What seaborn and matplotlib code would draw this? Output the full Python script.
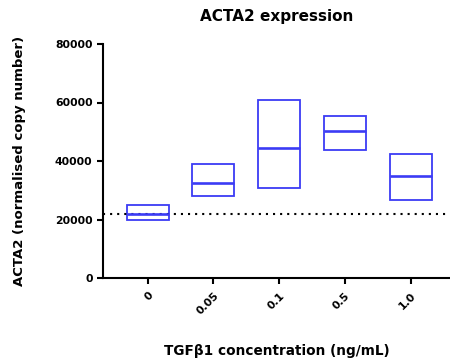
import matplotlib
matplotlib.use("Agg")
import matplotlib.pyplot as plt
import seaborn as sns
import numpy as np
import pandas as pd

# Data
concentrations = ["0", "0.05", "0.1", "0.5", "1.0"]
mins = [20000, 28000, 30800, 43700, 26700]
maxs = [25000, 39000, 61000, 55500, 42500]
medians = [22000, 32500, 44500, 50300, 35000]
baseline = 22000
yticks = [0, 20000, 40000, 60000, 80000]

sns.set_style("ticks")
plt.rcParams["font.family"] = ["DejaVu Sans"]
plt.rcParams["font.weight"] = "bold"
plt.rcParams["text.color"] = "black"
plt.rcParams["axes.labelcolor"] = "black"
plt.rcParams["xtick.color"] = "black"
plt.rcParams["ytick.color"] = "black"

blue = "#3b3bf5"

df = pd.DataFrame({
    "conc": concentrations,
    "low": mins,
    "span": np.array(maxs) - np.array(mins),
    "med": medians,
})

fig = plt.figure(figsize=(4.5, 3.62), dpi=100)
ax = fig.add_axes([103 / 450, 1 - 278 / 362, 1 - 103 / 450, (278 - 44) / 362])

width = 0.64
sns.barplot(data=df, x="conc", y="span", bottom=df["low"].to_numpy(),
            fill=False, color=blue, width=width, linewidth=1.3,
            edgecolor=blue, ax=ax)
# median lines
xs = np.arange(len(concentrations))
ax.hlines(df["med"], xs - width / 2, xs + width / 2, color=blue, lw=1.9, zorder=3)

ax.axhline(baseline, color="black", ls=(0, (1, 2.4)), lw=1.5, zorder=1)

ax.set_ylim(0, 80000)
ax.set_xlim(-0.68, 4.6)
ax.set_yticks(yticks)
ax.set_yticklabels([str(v) for v in yticks], fontsize=7.8, fontweight="bold")
ax.set_xticks(xs)
ax.set_xticklabels(concentrations, fontsize=7.8, fontweight="bold",
                   rotation=45, ha="right", rotation_mode="anchor")

sns.despine(ax=ax)
for s in ["left", "bottom"]:
    ax.spines[s].set_linewidth(1.5)
    ax.spines[s].set_color("black")
ax.tick_params(axis="both", direction="out", length=4, width=1.5, colors="black", pad=3.5)
ax.tick_params(axis="x", pad=5)

ax.set_xlabel("TGFβ1 concentration (ng/mL)", fontsize=9.8, fontweight="bold", labelpad=20)
ax.set_ylabel("ACTA2 (normalised copy number)", fontsize=9.5, fontweight="bold", labelpad=21)
fig.text(277 / 450, 1 - 17 / 362, "ACTA2 expression", fontsize=11, fontweight="bold",
         ha="center", va="center")

fig.savefig("out.png", dpi=100)
